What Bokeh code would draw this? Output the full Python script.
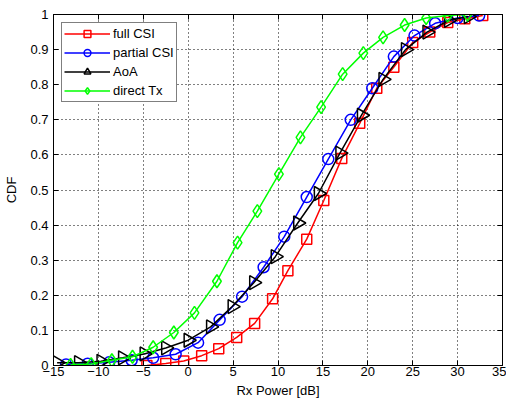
import math
from bokeh.plotting import figure
from bokeh.models import LinearAxis, Range1d, Legend, LegendItem, FixedTicker
from bokeh.embed import file_html
from bokeh.resources import INLINE

full_x = [-4.6, -2.5, -0.5, 1.5, 3.4, 5.4, 7.4, 9.4, 11.1, 13.2, 15.1, 17.1, 19.1, 21.0, 22.9, 25.0, 26.9, 28.9, 30.8, 32.8]
full_y = [0.0, 0.006, 0.013, 0.028, 0.048, 0.08, 0.12, 0.19, 0.27, 0.36, 0.47, 0.59, 0.69, 0.79, 0.85, 0.92, 0.95, 0.977, 0.988, 0.997]

part_x = [-13.6, -11.2, -8.8, -6.3, -3.9, -1.4, 1.1, 3.5, 6.0, 8.4, 10.7, 13.2, 15.6, 18.1, 20.5, 22.9, 25.2, 27.5, 30.0, 32.4]
part_y = [0.003, 0.005, 0.009, 0.015, 0.022, 0.032, 0.065, 0.13, 0.196, 0.28, 0.367, 0.48, 0.588, 0.70, 0.79, 0.88, 0.94, 0.975, 0.99, 0.997]

aoa_x = [-14.6, -12.2, -9.7, -7.3, -4.9, -2.5, 0.0, 2.5, 4.9, 7.3, 9.7, 12.2, 14.5, 16.9, 19.3, 21.7, 24.2, 26.6, 29.0, 31.2]
aoa_y = [0.008, 0.008, 0.012, 0.022, 0.033, 0.05, 0.072, 0.11, 0.168, 0.236, 0.31, 0.406, 0.49, 0.605, 0.713, 0.815, 0.90, 0.95, 0.983, 0.994]

dir_x = [-13.1, -10.8, -8.5, -6.2, -3.9, -1.6, 0.7, 3.2, 5.5, 7.7, 10.1, 12.5, 14.8, 17.2, 19.5, 21.7, 24.1, 26.5, 28.9, 31.1]
dir_y = [0.002, 0.004, 0.015, 0.025, 0.052, 0.094, 0.15, 0.24, 0.35, 0.44, 0.545, 0.65, 0.736, 0.83, 0.89, 0.935, 0.97, 0.99, 0.997, 1.0]

x_ticks = [-15, -10, -5, 0, 5, 10, 15, 20, 25, 30, 35]
y_ticks = [0, 0.1, 0.2, 0.3, 0.4, 0.5, 0.6, 0.7, 0.8, 0.9, 1]
y_tick_labels = ["0", "0.1", "0.2", "0.3", "0.4", "0.5", "0.6", "0.7", "0.8", "0.9", "1"]

FONT = "Liberation Sans"

p = figure(width=506, height=400, output_backend="svg", toolbar_location=None,
           x_range=Range1d(-15, 35), y_range=Range1d(0, 1),
           min_border_left=53, min_border_right=4, min_border_top=14, min_border_bottom=34)
p.background_fill_color = "white"
p.border_fill_color = "white"
p.outline_line_color = "black"
p.outline_line_width = 1

for ax in (p.xaxis[0], p.yaxis[0]):
    ax.major_tick_in = 5
    ax.major_tick_out = 0
    ax.minor_tick_in = 0
    ax.minor_tick_out = 0
    ax.axis_line_color = "black"
    ax.major_label_text_font = FONT
    ax.major_label_text_font_size = "13px"
    ax.major_label_text_color = "black"
    ax.axis_label_text_font = FONT
    ax.axis_label_text_font_size = "13px"
    ax.axis_label_text_font_style = "normal"
    ax.axis_label_text_color = "black"

p.xaxis.ticker = FixedTicker(ticks=x_ticks)
p.yaxis.ticker = FixedTicker(ticks=y_ticks)
p.yaxis.major_label_overrides = {t: l for t, l in zip(y_ticks, y_tick_labels)}
p.xaxis.axis_label = "Rx Power [dB]"
p.yaxis.axis_label = "CDF"
p.xaxis.axis_label_standoff = 4
p.yaxis.axis_label_standoff = 8
p.xaxis.major_label_standoff = 1
p.yaxis.major_label_standoff = 5

top = LinearAxis(ticker=FixedTicker(ticks=x_ticks), major_tick_in=5, major_tick_out=0,
                 minor_tick_in=0, minor_tick_out=0, major_label_text_font_size="1px",
                 major_label_overrides={t: "" for t in x_ticks}, major_label_standoff=0)
right = LinearAxis(ticker=FixedTicker(ticks=y_ticks), major_tick_in=5, major_tick_out=0,
                   minor_tick_in=0, minor_tick_out=0, major_label_text_font_size="1px",
                   major_label_overrides={t: "" for t in y_ticks}, major_label_standoff=0)
p.add_layout(top, "above")
p.add_layout(right, "right")

for g in (p.xgrid[0], p.ygrid[0]):
    g.grid_line_color = "black"
    g.grid_line_dash = "1 3"
    g.grid_line_width = 1
    g.grid_line_alpha = 1.0
p.xgrid.ticker = FixedTicker(ticks=x_ticks)
p.ygrid.ticker = FixedTicker(ticks=y_ticks)

series = [
    ("full CSI", full_x, full_y, "#ff0000", "square", 0.0, 10),
    ("partial CSI", part_x, part_y, "#0000ff", "circle", 0.0, 11),
    ("AoA", aoa_x, aoa_y, "#000000", "triangle", -math.pi / 2, 14),
    ("direct Tx", dir_x, dir_y, "#00ff00", "diamond", 0.0, 13),
]

items = []
for label, xs, ys, col, mk, ang, sz in series:
    r1 = p.line(xs, ys, line_color=col, line_width=1.5)
    r2 = p.scatter(xs, ys, marker=mk, size=sz, angle=ang, line_color=col,
                   fill_color=None, line_width=1.5)
    items.append(LegendItem(label=label, renderers=[r1, r2]))

legend = Legend(items=items, location="top_left")
legend.label_text_font = FONT
legend.label_text_font_size = "13px"
legend.label_text_color = "black"
legend.glyph_width = 46
legend.glyph_height = 17
legend.label_height = 17
legend.spacing = 2
legend.padding = 2
legend.margin = 8
legend.label_standoff = 3
legend.border_line_color = "black"
legend.border_line_width = 1
legend.background_fill_color = "white"
legend.background_fill_alpha = 1
p.add_layout(legend)

open("out.html", "w").write(file_html(p, INLINE))
